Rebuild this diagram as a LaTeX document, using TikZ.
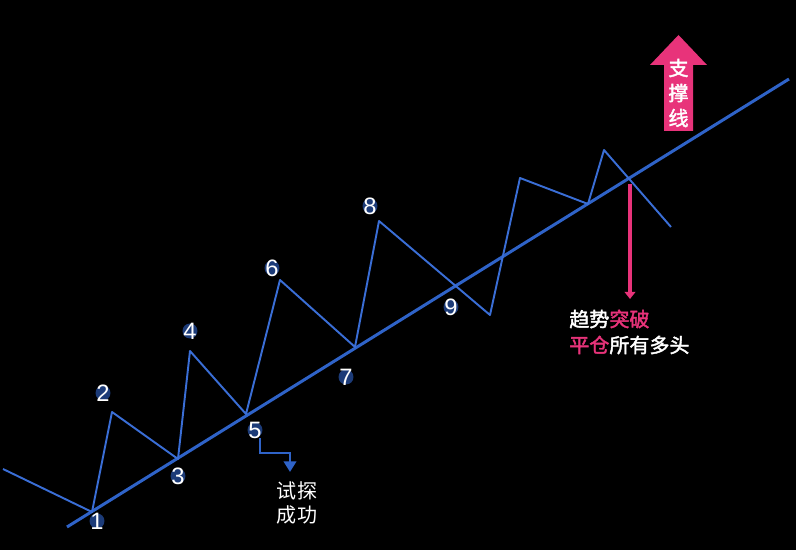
\documentclass[tikz,border=0pt]{standalone}
\usepackage{fontspec}
\setmainfont{Liberation Sans}
\newfontfamily\cjk{Noto Sans CJK SC}
\newfontfamily\cjkb{Noto Sans CJK SC}[FakeBold=2]
\usetikzlibrary{arrows.meta, calc}
\definecolor{MyBlue}{HTML}{2F63C8}
\definecolor{LineBlue}{HTML}{3A6ED6}
\definecolor{MyPink}{HTML}{E8337A}
\definecolor{bg}{HTML}{000000}

\begin{document}
\begin{tikzpicture}[x=0.02cm, y=-0.02cm, every node/.style={inner sep=0pt},
		num/.style={text=white, font=\fontsize{13.5}{14}\selectfont},
		note/.style={text=white, font=\cjkb\fontsize{11.4}{13}\selectfont, anchor=west}]
	\fill[bg] (0,0) rectangle (796,550);
	\useasboundingbox (0,0) rectangle (796,550);
	
	% trend line
	\coordinate (T1) at (67, 527);
	\coordinate (T2) at (789, 79);
	\draw[MyBlue, line width=1.7pt] (T1) -- (T2);
	
	% price zigzag
	\draw[LineBlue, line width=1.1pt, line join=round]
		(3, 469) -- (92, 512) -- (112, 412) -- (178, 459) -- (190, 351)
		-- (246, 414) -- (280, 280) -- (355, 347) -- (379, 221)
		-- (490, 315) -- (520, 178) -- (588, 204) -- (604, 150) -- (671, 227);
	
	% numbered points
	\foreach \n/\x/\y in {1/97/521, 2/103/393, 3/178/476, 4/190/331, 5/255/430,
		6/272/268, 7/346/377, 8/370/206, 9/451/307}{
		\fill[MyBlue, opacity=0.6] (\x,\y) circle (0.15cm);
		\node[num] (n\n) at (\x,\y) {\n};
	}
	
	% test arrow below 5
	\coordinate (A1) at (260, 438);
	\coordinate (A2) at (290, 472);
	\draw[MyBlue, line width=1.4pt, -{Triangle[width=7pt, length=6pt]}]
		(A1) |- (290, 453) -- (A2);
	\node[text=white, font=\cjk\fontsize{11.4}{13}\selectfont, align=left] (ok) at (297, 503) {试探\\[1pt]成功};
	
	% breakout arrow
	\coordinate (B1) at (630, 184);
	\coordinate (B2) at (630, 299);
	\draw[MyPink, line width=2.2pt, -{Triangle[width=6pt, length=4pt]}] (B1) -- (B2);
	\node[note] (brk) at (569, 319) {趋势\textcolor{MyPink}{突破}};
	\node[note] (cls) at (569, 345) {\textcolor{MyPink}{平仓}所有多头};
	
	% support arrow
	\fill[MyPink] (678.5, 35) -- (707, 65) -- (693, 65) -- (693, 131)
		-- (664, 131) -- (664, 65) -- (650, 65) -- cycle;
	\foreach \c/\y in {支/68, 撑/93, 线/118}
		\node[text=white, font=\cjkb\fontsize{11.4}{13}\selectfont] at (678.5, \y) {\c};
\end{tikzpicture}
\end{document}
